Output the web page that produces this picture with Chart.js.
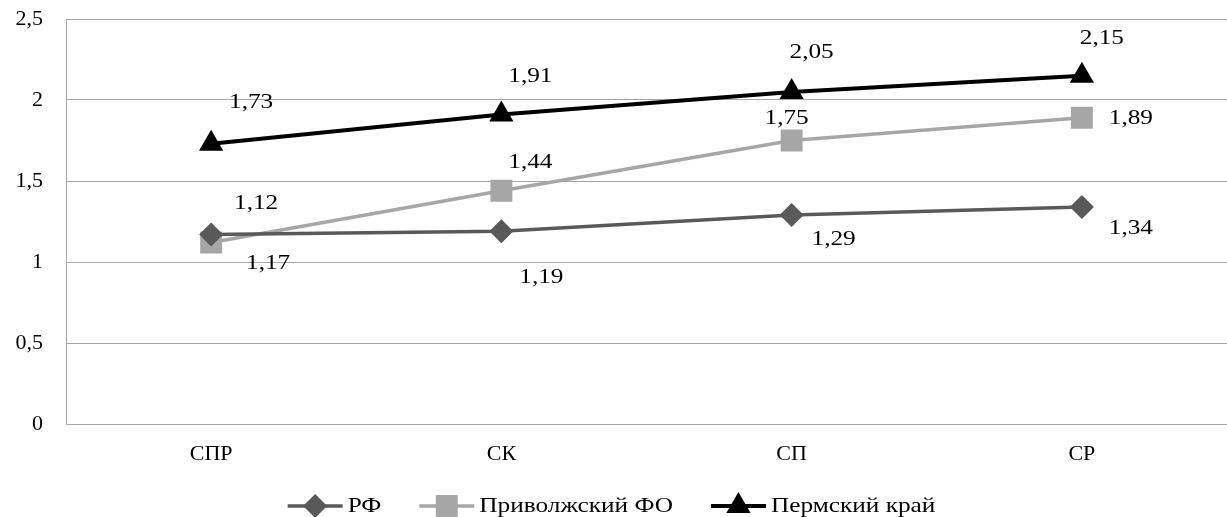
<!DOCTYPE html>
<html>
<head>
<meta charset="utf-8">
<script src="https://cdn.jsdelivr.net/npm/chart.js@4.4.0/dist/chart.umd.min.js"></script>
<style>
  html, body { margin: 0; padding: 0; background: #fff; }
  #wrap { width: 1227px; height: 517px; }
</style>
</head>
<body>
<div id="wrap"><canvas id="chart" width="1227" height="517"></canvas></div>
<script>
// values
const categories = ['СПР', 'СК', 'СП', 'СР'];
const rfValues = [1.17, 1.19, 1.29, 1.34];
const pfoValues = [1.12, 1.44, 1.75, 1.89];
const permValues = [1.73, 1.91, 2.05, 2.15];
const seriesNames = ['РФ', 'Приволжский ФО', 'Пермский край'];
const yTicks = [0, 0.5, 1, 1.5, 2, 2.5];

// where each value label sits relative to its point (dx, dy)
const labelOffsets = [
    [[57, 29], [40, 46], [42, 24], [49, 21]],
    [[45, -39], [29, -29], [-5, -22], [49, 0]],
    [[40, -42], [29, -38], [20, -40], [20, -37]]
];

const serif = '"Liberation Serif", "Times New Roman", serif';
const textStretch = 1.15;

function fmt(v) {
    return v.toFixed(2).replace('.', ',');
}

// draw a marker the same way the chart does
function marker(ctx, style, radius, x, y) {
    if (Chart.helpers && Chart.helpers.drawPoint) {
        Chart.helpers.drawPoint(ctx, { pointStyle: style, radius: radius, rotation: 0, borderWidth: 0 }, x, y);
        return;
    }
    ctx.beginPath();
    ctx.arc(x, y, radius, 0, Math.PI * 2);
    ctx.fill();
}

// value labels next to the points
const valueLabels = {
    id: 'valueLabels',
    afterDatasetsDraw(chart) {
        const ctx = chart.ctx;
        ctx.save();
        ctx.font = '22px ' + serif;
        ctx.fillStyle = '#000';
        ctx.textAlign = 'center';
        ctx.textBaseline = 'middle';
        chart.data.datasets.forEach(function (ds, i) {
            chart.getDatasetMeta(i).data.forEach(function (pt, j) {
                const off = labelOffsets[i][j];
                ctx.save();
                ctx.translate(pt.x + off[0], pt.y + off[1]);
                ctx.scale(textStretch, 1);
                ctx.fillText(fmt(ds.data[j]), 0, 0);
                ctx.restore();
            });
        });
        ctx.restore();
    }
};

// excel-like legend at the bottom: line with marker, then name
const bottomLegend = {
    id: 'bottomLegend',
    afterDraw(chart) {
        const ctx = chart.ctx;
        const y = 506;
        const lineLen = 55, textGap = 5, itemGap = 38;
        ctx.save();
        ctx.font = '22px ' + serif;
        const widths = chart.data.datasets.map(ds => ctx.measureText(ds.label).width * textStretch);
        let total = 0;
        widths.forEach(w => { total += lineLen + textGap + w; });
        total += itemGap * (widths.length - 1);
        let x = (chart.width - total) / 2 - 2;
        chart.data.datasets.forEach(function (ds, i) {
            ctx.strokeStyle = ds.borderColor;
            ctx.fillStyle = ds.backgroundColor;
            ctx.lineWidth = ds.borderWidth;
            ctx.beginPath();
            ctx.moveTo(x, y);
            ctx.lineTo(x + lineLen, y);
            ctx.stroke();
            marker(ctx, ds.pointStyle, ds.pointRadius, x + lineLen / 2, y);
            ctx.fillStyle = '#000';
            ctx.textAlign = 'left';
            ctx.textBaseline = 'middle';
            ctx.save();
            ctx.translate(x + lineLen + textGap, y);
            ctx.scale(textStretch, 1);
            ctx.fillText(ds.label, 0, 0);
            ctx.restore();
            x += lineLen + textGap + widths[i] + itemGap;
        });
        ctx.restore();
    }
};

const ctx = document.getElementById('chart').getContext('2d');
const chart = new Chart(ctx, {
    type: 'line',
    data: {
        labels: categories,
        datasets: [{
            label: seriesNames[0],
            data: rfValues,
            borderColor: '#595959',
            backgroundColor: '#595959',
            borderWidth: 3.5,
            pointStyle: 'rectRot',
            pointRadius: 12,
            pointBorderWidth: 0,
            fill: false,
            tension: 0
        }, {
            label: seriesNames[1],
            data: pfoValues,
            borderColor: '#a6a6a6',
            backgroundColor: '#a6a6a6',
            borderWidth: 3.5,
            pointStyle: 'rect',
            pointRadius: 15.5,
            pointBorderWidth: 0,
            fill: false,
            tension: 0
        }, {
            label: seriesNames[2],
            data: permValues,
            borderColor: '#000000',
            backgroundColor: '#000000',
            borderWidth: 4,
            pointStyle: 'triangle',
            pointRadius: 14,
            pointBorderWidth: 0,
            fill: false,
            tension: 0
        }]
    },
    options: {
        responsive: false,
        animation: false,
        devicePixelRatio: 1,
        layout: {
            autoPadding: false,
            padding: { top: 19, right: 0, bottom: 38, left: 0 }
        },
        plugins: {
            legend: { display: false },
            tooltip: { enabled: false }
        },
        scales: {
            x: {
                offset: true,
                grid: { display: false },
                border: { display: true, color: '#a6a6a6', width: 1 },
                ticks: {
                    color: '#000',
                    font: { family: serif, size: 22 },
                    padding: 9
                },
                afterFit: function (scale) {
                    scale.height = 55;
                    scale.paddingLeft = 0;
                    scale.paddingRight = 0;
                }
            },
            y: {
                min: yTicks[0],
                max: yTicks[yTicks.length - 1],
                grid: { color: '#a6a6a6', lineWidth: 1, drawTicks: false },
                border: { display: true, color: '#a6a6a6', width: 1 },
                ticks: {
                    stepSize: yTicks[1] - yTicks[0],
                    color: '#000',
                    font: { family: serif, size: 22 },
                    padding: 23,
                    callback: function (value) {
                        return String(value).replace('.', ',');
                    }
                },
                afterFit: function (scale) {
                    scale.width = 66;
                    scale.paddingTop = 0;
                    scale.paddingBottom = 0;
                }
            }
        }
    },
    plugins: [valueLabels, bottomLegend]
});
</script>
</body>
</html>
